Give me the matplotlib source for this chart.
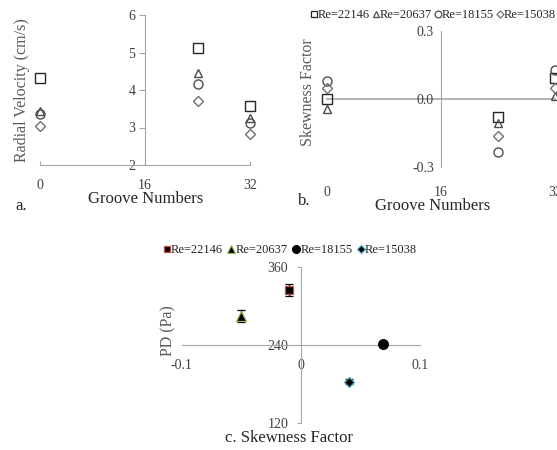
import matplotlib
matplotlib.use("Agg")
import matplotlib.pyplot as plt
from matplotlib.lines import Line2D

plt.rcParams['font.family'] = ['Liberation Serif', 'DejaVu Serif']

series = ['Re=22146', 'Re=20637', 'Re=18155', 'Re=15038']
grooves = [0, 24, 32]
velocity = {
    'Re=22146': [4.31, 5.13, 3.57],
    'Re=20637': [3.45, 4.46, 3.25],
    'Re=18155': [3.35, 4.16, 3.13],
    'Re=15038': [3.04, 3.71, 2.83],
}
skewness = {
    'Re=22146': [-0.003, -0.079, 0.093],
    'Re=20637': [-0.047, -0.106, 0.012],
    'Re=18155': [0.078, -0.235, 0.126],
    'Re=15038': [0.049, -0.165, 0.049],
}
c_skew = [-0.010, -0.050, 0.069, 0.040]
c_pd = [324.3, 284.9, 241.5, 184.0]
c_err = [9.0, 9.5, 3.5, 3.5]

x_ticks_ab = [0, 16, 32]
ya_ticks = [2, 3, 4, 5, 6]
yb_ticks = [-0.3, 0.0, 0.3]
xc_ticks = [-0.1, 0, 0.1]
yc_ticks = [120, 240, 360]

hollow_markers = ['s', '^', 'o', 'D']
hollow_sizes = [6.5, 6.0, 6.5, 4.8]
hollow_colors = ['#262626', '#4d4d4d', '#4d4d4d', '#707070']
filled_markers = ['s', '^', 'o', 'D']
filled_sizes = [6.2, 6.5, 7.0, 4.6]
filled_edges = ['#c0504d', '#9bbb59', '#000000', '#4bacc6']

AX = '#a6a6a6'
TXT = '#404040'
LAB = '#595959'

fig = plt.figure(figsize=(5.57, 4.5), dpi=100)
W, H = 557.0, 450.0

def box(x0, x1, ytop, ybot):
    return [x0 / W, 1 - ybot / H, (x1 - x0) / W, (ybot - ytop) / H]

# Panel a
ax = fig.add_axes(box(40, 250, 15, 165))
for i, s in enumerate(series):
    ax.plot(grooves, velocity[s], linestyle='none', marker=hollow_markers[i],
            markersize=hollow_sizes[i], markerfacecolor='none',
            markeredgecolor=hollow_colors[i], markeredgewidth=1.0, clip_on=False)
ax.set_xlim(0, 32)
ax.set_ylim(2, 6)
ax.set_xticks(x_ticks_ab)
ax.set_yticks(ya_ticks)
ax.spines['left'].set_position(('data', 16))
for sp in ['top', 'right']:
    ax.spines[sp].set_visible(False)
for sp in ['left', 'bottom']:
    ax.spines[sp].set_color(AX)
ax.tick_params(axis='x', direction='in', length=3, pad=10, colors=AX, labelcolor=TXT, labelsize=10)
ax.tick_params(axis='y', direction='out', length=4, pad=3, colors=AX, labelcolor=TXT, labelsize=10)
fig.text(22 / W, 1 - 90 / H, 'Radial Velocity (cm/s)', rotation=90, ha='center', va='center',
         fontsize=11.5, color=LAB)
fig.text(146 / W, 1 - 199 / H, 'Groove Numbers', ha='center', va='center', fontsize=12, color='#262626')
fig.text(15 / W, 1 - 206 / H, 'a.', ha='left', va='center', fontsize=12, color='#262626')

# Panel b
bx = fig.add_axes(box(326.7, 555.3, 30.7, 166.7))
for i, s in enumerate(series):
    bx.plot(grooves, skewness[s], linestyle='none', marker=hollow_markers[i],
            markersize=hollow_sizes[i], markerfacecolor='none',
            markeredgecolor=hollow_colors[i], markeredgewidth=1.0, clip_on=False, zorder=3)
bx.set_xlim(0, 32)
bx.set_ylim(-0.3, 0.3)
bx.set_xticks(x_ticks_ab)
bx.set_yticks(yb_ticks)
bx.set_yticklabels([f'{v:.1f}' for v in yb_ticks])
bx.spines['left'].set_position(('data', 16))
bx.spines['left'].set_color(AX)
for sp in ['top', 'right', 'bottom']:
    bx.spines[sp].set_visible(False)
bx.axhline(0, color=AX, lw=1.2, zorder=1, clip_on=False)
bx.tick_params(axis='x', length=0, pad=14, labelcolor=TXT, labelsize=10)
bx.tick_params(axis='y', direction='out', length=0, pad=5, colors=AX, labelcolor=TXT, labelsize=10)
fig.text(308 / W, 1 - 92 / H, 'Skewness Factor', rotation=90, ha='center', va='center',
         fontsize=11.5, color=LAB)
fig.text(433 / W, 1 - 206 / H, 'Groove Numbers', ha='center', va='center', fontsize=12, color='#262626')
fig.text(298 / W, 1 - 201 / H, 'b.', ha='left', va='center', fontsize=12, color='#262626')

handles_ab = [Line2D([], [], linestyle='none', marker=hollow_markers[i], markersize=hollow_sizes[i] * 0.75,
                     markerfacecolor='none', markeredgecolor=hollow_colors[i], markeredgewidth=0.9)
              for i in range(4)]
fig.legend(handles_ab, series, loc='center', bbox_to_anchor=(433 / W, 1 - 15 / H), ncol=4,
           frameon=False, fontsize=9, handlelength=0.6, handletextpad=0.0, columnspacing=0.2,
           borderpad=0, labelcolor='#262626')

# Panel c
cx = fig.add_axes(box(181.7, 420, 266.7, 423.3))
for i, s in enumerate(series):
    cx.errorbar([c_skew[i]], [c_pd[i]], yerr=[c_err[i]], fmt=filled_markers[i],
                markersize=filled_sizes[i], markerfacecolor='black', markeredgecolor=filled_edges[i],
                markeredgewidth=0.9, ecolor='black', elinewidth=1, capsize=3, capthick=1, zorder=3)
cx.set_xlim(-0.1, 0.1)
cx.set_ylim(120, 360)
cx.set_xticks(xc_ticks)
cx.set_xticklabels(['-0.1', '0', '0.1'])
cx.set_yticks(yc_ticks)
cx.spines['left'].set_position(('data', 0))
cx.spines['bottom'].set_position(('data', 240))
for sp in ['top', 'right']:
    cx.spines[sp].set_visible(False)
for sp in ['left', 'bottom']:
    cx.spines[sp].set_color(AX)
cx.tick_params(axis='x', length=0, pad=10, labelcolor=TXT, labelsize=10)
cx.tick_params(axis='y', direction='out', length=3, pad=6, colors=AX, labelcolor=TXT, labelsize=10)
fig.text(168 / W, 1 - 331 / H, 'PD (Pa)', rotation=90, ha='center', va='center', fontsize=11.5, color=LAB)
fig.text(289 / W, 1 - 438 / H, 'c. Skewness Factor', ha='center', va='center', fontsize=12, color='#262626')

handles_c = [Line2D([], [], linestyle='none', marker=filled_markers[i], markersize=filled_sizes[i] * 0.8,
                    markerfacecolor='black', markeredgecolor=filled_edges[i], markeredgewidth=0.9)
             for i in range(4)]
fig.legend(handles_c, series, loc='center', bbox_to_anchor=(290 / W, 1 - 250 / H), ncol=4,
           frameon=False, fontsize=9, handlelength=0.6, handletextpad=0.05, columnspacing=0.35,
           borderpad=0, labelcolor='#262626')

fig.savefig('out.png', dpi=100)
